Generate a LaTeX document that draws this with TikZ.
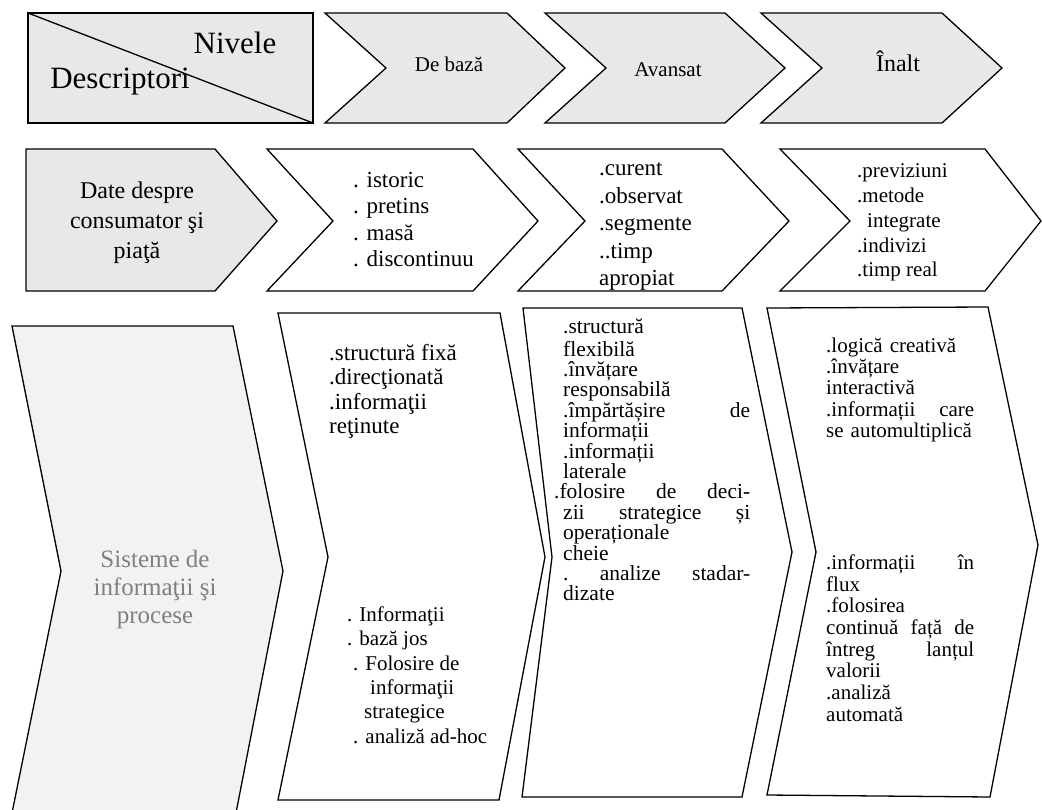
\documentclass[tikz,border=0pt]{standalone}
\usepackage{fontspec}
\setmainfont{Liberation Serif}
\definecolor{headfill}{HTML}{E8E8E8}
\definecolor{sysfill}{HTML}{F2F2F2}
\definecolor{systext}{HTML}{808080}
\newcommand\fsz[2]{\fontsize{#1pt}{#2pt}\selectfont}
% a line spread out to a given width (gaps marked with \hfill)
\newcommand\jline[2]{\makebox[#1][l]{#2}}
\begin{document}
\begin{tikzpicture}[x=1pt,y=-1pt,
  outline/.style={draw=black, line width=1.3pt, line join=miter},
  txt/.style={anchor=north west, inner sep=0pt, align=left},
  ctxt/.style={anchor=north, inner sep=0pt, align=center}]
\useasboundingbox (0,0) rectangle (1042,809);

% ---- header row: levels ----
\draw[outline, fill=headfill] (28,13) rectangle (313,123);
\node[anchor=base, inner sep=0pt, font=\fsz{31}{36}] (nivele) at (235,53) {Nivele};
\node[anchor=base, inner sep=0pt, font=\fsz{31}{36}] (descr) at (120,88) {Descriptori};
\draw[line width=1.3pt] (28,13) -- (313,123);

\draw[outline, fill=headfill] (325,13) -- (507,13) -- (565,68) -- (507,123) -- (325,123) -- (386,68) -- cycle;
\draw[outline, fill=headfill] (545,13) -- (725,13) -- (785,68) -- (725,123) -- (545,123) -- (606,68) -- cycle;
\draw[outline, fill=headfill] (761,13) -- (942,13) -- (1002,68) -- (942,123) -- (761,123) -- (822,68) -- cycle;
\node[anchor=base, inner sep=0pt, font=\fsz{21}{25}] (lvlbase) at (449,71) {De bază};
\node[anchor=base, inner sep=0pt, font=\fsz{21}{25}] (lvladv) at (668,76) {Avansat};
\node[anchor=base, inner sep=0pt, font=\fsz{24}{28}] (lvlhigh) at (898,71) {Înalt};

% ---- second row: consumer and market data ----
\draw[outline, fill=headfill] (26,149) -- (215,149) -- (277,221) -- (215,291) -- (26,291) -- cycle;
\node[ctxt, font=\fsz{24}{30}] (data) at (137,177) {\strut Date despre\\consumator şi\\piaţă};

\draw[outline] (267,149) -- (473,149) -- (538,221) -- (473,291) -- (267,291) -- (333,221) -- cycle;
\node[txt, font=\fsz{23}{26.5}] (databasic) at (353,168.5)
  {\strut. istoric\\. pretins\\. masă\\. discontinuu};

\begin{scope}
  \clip (518,149) -- (722,149) -- (789,221) -- (722,291) -- (518,291) -- (585,221) -- cycle;
  \node[txt, font=\fsz{23}{27.5}] (dataadv) at (599,156.5)
    {\strut.curent\\.observat\\.segmente\\..timp\\apropiat};
\end{scope}
\draw[outline] (518,149) -- (722,149) -- (789,221) -- (722,291) -- (518,291) -- (585,221) -- cycle;

\draw[outline] (780,149) -- (985,149) -- (1041,221) -- (985,291) -- (780,291) -- (850,221) -- cycle;
\node[txt, font=\fsz{21}{24.7}] (datahigh) at (857,160.5)
  {\strut.previziuni\\.metode\\\hspace*{10pt}integrate\\.indivizi\\.timp real};

% ---- third row: information systems and processes ----
\begin{scope}
  \clip (0,0) rectangle (1042,809);
  \draw[outline, fill=sysfill] (12,326) -- (233,326) -- (283,571) -- (235.6,815) -- (11.6,815) -- (61,571) -- cycle;
\end{scope}
\node[ctxt, font=\fsz{25}{28}, text=systext] (sys) at (155,547.5)
  {\strut Sisteme de\\informaţii şi\\procese};

\draw[outline] (278,313) -- (500,313) -- (545,557) -- (499,800) -- (278,800) -- (328,557) -- cycle;
\node[txt, font=\fsz{23}{24.5}] (sysbasicA) at (329,343)
  {\strut.structură fixă\\.direcţionată\\.informaţii\\reţinute};
\node[txt, font=\fsz{21}{24.4}] (sysbasicB) at (347,604)
  {\strut. Informaţii\\. bază jos\\\hspace*{6pt}. Folosire de\\\hspace*{23pt}informaţii\\\hspace*{17pt}strategice\\\hspace*{6pt}. analiză ad-hoc};

\draw[outline] (523,308) -- (742,308) -- (792,552) -- (742,797) -- (522,797) -- (552,557) -- cycle;
\node[txt, text width=187pt, font=\fsz{21.5}{20.4}] (sysadv) at (563,319)
  {\strut.structură\\
   flexibilă\\
   .învățare\\
   responsabilă\\
   \jline{187pt}{.împărtășire\hfill de}\\
   informații\\
   .informații\\
   laterale\\
   \hspace*{-9pt}\jline{196pt}{.folosire\hfill de\hfill deci-}\\
   \jline{187pt}{zii\hfill strategice\hfill și}\\
   operaționale\\
   cheie\\
   \jline{187pt}{.\hfill analize\hfill stadar-}\\
   dizate};

\draw[outline] (767,308) -- (988,307) -- (1038,545) -- (990,797) -- (767,795) -- (816,552) -- cycle;
\node[txt, text width=148pt, font=\fsz{21}{21.3}] (syshighA) at (826,337)
  {\strut.logică creativă\\
   .învățare\\
   interactivă\\
   \jline{148pt}{.informații\hfill care}\\
   se automultiplică};
\node[txt, text width=148pt, font=\fsz{21}{21.7}] (syshighB) at (826,554)
  {\strut\jline{148pt}{.informații\hfill în}\\
   flux\\
   .folosirea\\
   \jline{148pt}{continuă\hfill față\hfill de}\\
   \jline{148pt}{întreg\hfill lanțul}\\
   valorii\\
   .analiză\\
   automată};
\end{tikzpicture}
\end{document}
